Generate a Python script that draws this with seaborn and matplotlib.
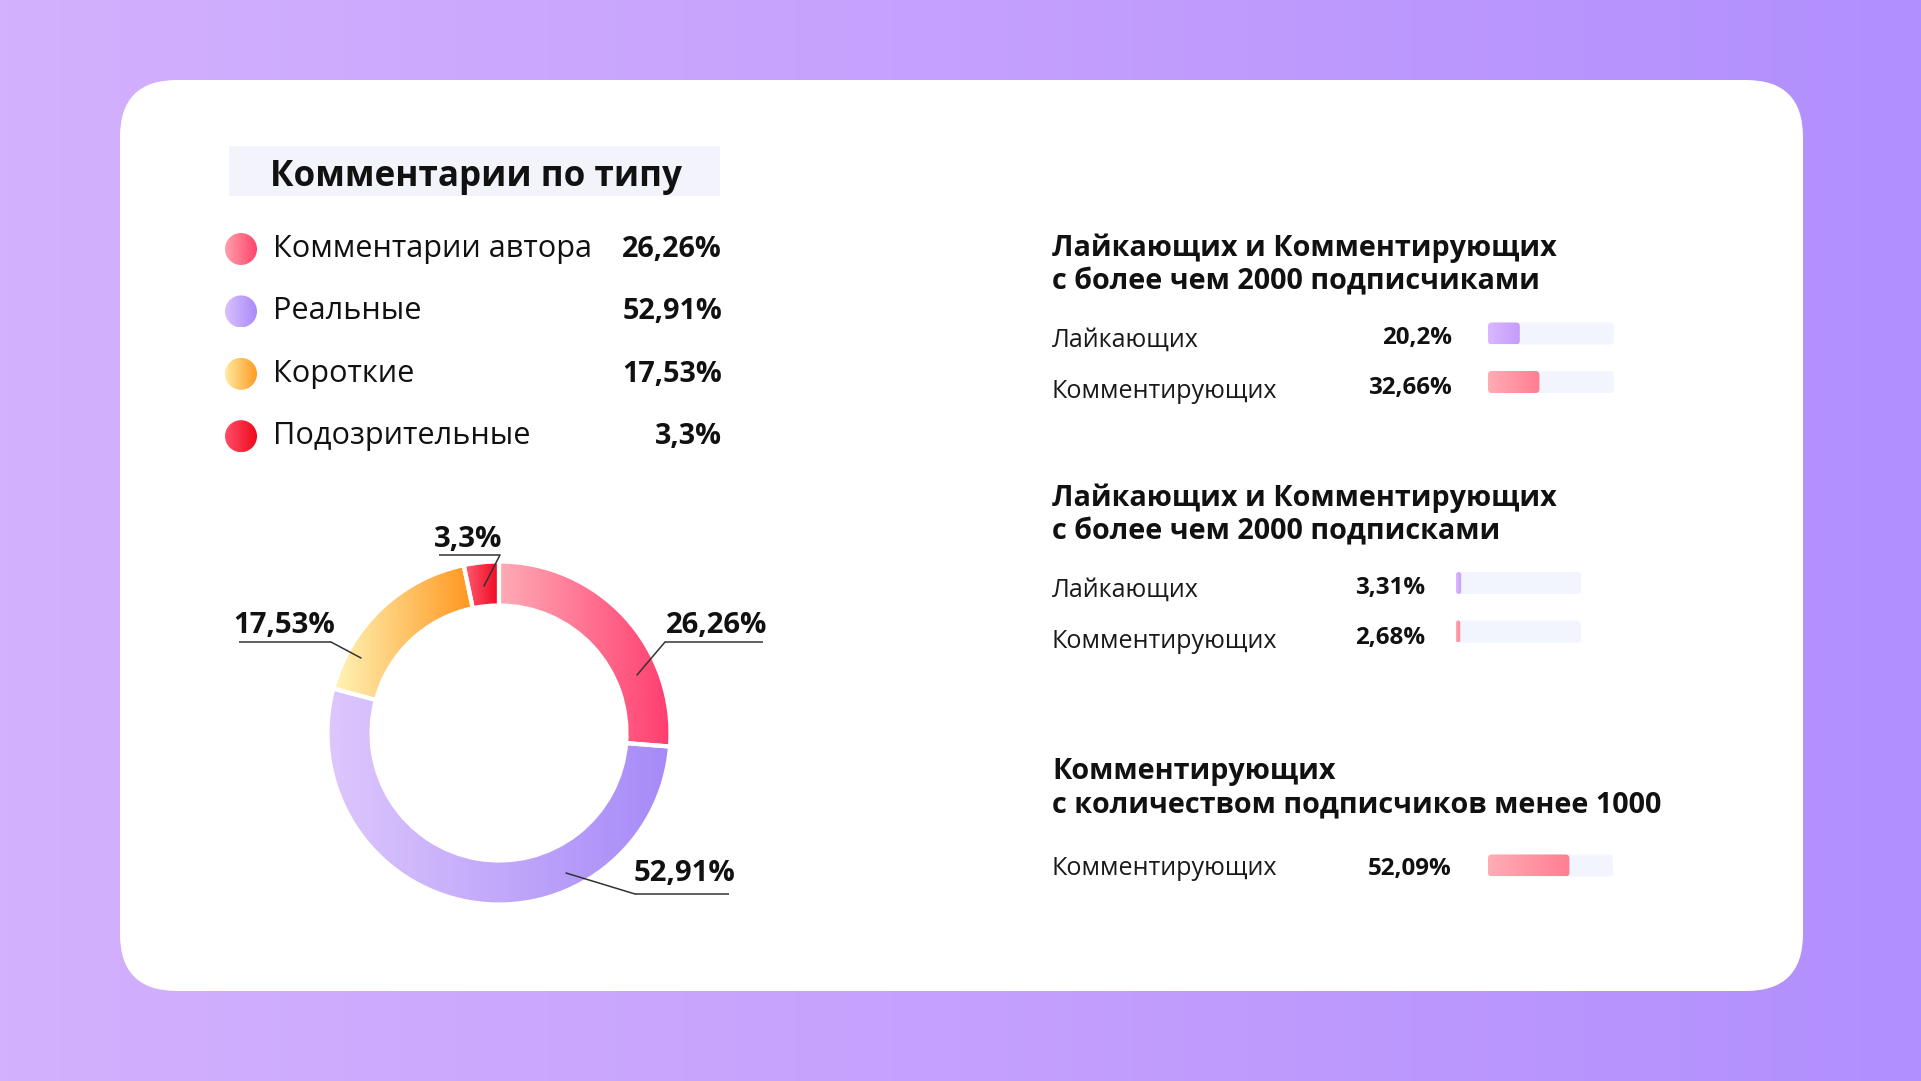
import numpy as np
import matplotlib
matplotlib.use("Agg")
import matplotlib.pyplot as plt
import seaborn as sns
import pandas as pd
from matplotlib.patches import FancyBboxPatch, Rectangle, Circle
from matplotlib.colors import LinearSegmentedColormap

# ---------------- data ----------------
title = "Комментарии по типу"
type_labels = ["Комментарии автора", "Реальные", "Короткие", "Подозрительные"]
type_values = [26.26, 52.91, 17.53, 3.3]

group_titles = [
    ["Лайкающих и Комментирующих", "с более чем 2000 подписчиками"],
    ["Лайкающих и Комментирующих", "с более чем 2000 подписками"],
    ["Комментирующих", "с количеством подписчиков менее 1000"],
]
group_rows = [["Лайкающих", "Комментирующих"],
              ["Лайкающих", "Комментирующих"],
              ["Комментирующих"]]
group_values = [[20.2, 32.66], [3.31, 2.68], [52.09]]
BAR_MAX = 80


def fmt(v):
    return f"{v:g}".replace(".", ",") + "%"


# ---------------- style ----------------
sns.set_theme(style="white")
plt.rcParams['font.family'] = ['Open Sans', 'DejaVu Sans']
LEFT_FONT = ['Open Sans', 'DejaVu Sans']
RIGHT_FONT = ['Open Sans', 'DejaVu Sans']
TXT = "#111111"

seg_grad = [("#FFABB6", "#FF3D6F"), ("#DDC7FD", "#A68AF8"),
            ("#FFF5B8", "#FF961E"), ("#FF5C70", "#EE0720")]
dot_grad = [("#FFA0AC", "#FF4468"), ("#DAC0FE", "#A98AF8"),
            ("#FFEBA3", "#FF9A22"), ("#FF4E68", "#EE0A1C")]
row_grad = {"Лайкающих": ("#DAB8FF", "#C49CFB"),
            "Комментирующих": ("#FFACB6", "#FF7E90")}
TRACK = "#F3F5FE"

W, H = 1921, 1081
fig = plt.figure(figsize=(W / 100, H / 100), dpi=100)
renderer = fig.canvas.get_renderer()

bg = fig.add_axes([0, 0, 1, 1])
bg.set_xlim(0, W)
bg.set_ylim(H, 0)
bg.axis('off')


def grad_fill(ax, patch, c1, c2, z=None):
    bb = patch.get_window_extent(renderer)
    inv = ax.transData.inverted()
    (x0, y0), (x1, y1) = inv.transform([[bb.x0, bb.y0], [bb.x1, bb.y1]])
    cmap = LinearSegmentedColormap.from_list("g", [c1, c2])
    xl, yl = ax.get_xlim(), ax.get_ylim()
    img = ax.imshow(np.linspace(0, 1, 256)[None, :], cmap=cmap,
                    extent=[x0, x1, y0, y1], aspect='auto',
                    interpolation='bilinear',
                    zorder=(patch.get_zorder() - 0.05) if z is None else z)
    img.set_clip_path(patch)
    ax.set_xlim(xl)
    ax.set_ylim(yl)
    return img


def fit_size(text, family, weight, target_px, base=20):
    t = fig.text(0, 0, text, fontsize=base, family=family, weight=weight)
    w = t.get_window_extent(renderer).width
    t.remove()
    return base * target_px / w


# background gradient
bgcmap = LinearSegmentedColormap.from_list("bg", ["#D3B1FD", "#C5A0FD", "#B18FFD"])
bg.imshow(np.linspace(0, 1, 512)[None, :], cmap=bgcmap, extent=[0, W, H, 0],
          aspect='auto', zorder=0)
bg.set_xlim(0, W)
bg.set_ylim(H, 0)

# card
card = FancyBboxPatch((120, 80), 1683, 911, boxstyle="round,pad=0,rounding_size=57",
                      facecolor="white", edgecolor="none", zorder=1)
bg.add_patch(card)

# title box
bg.add_patch(Rectangle((229, 146), 491, 50, facecolor="#F2F3FB", edgecolor="none", zorder=2))
fs_title = fit_size(title, LEFT_FONT, 'bold', 410)
bg.text(476, 186, title, fontsize=fs_title, family=LEFT_FONT, weight='bold',
        ha='center', va='baseline', color=TXT, zorder=3)

# legend
fs_leg = fit_size(type_labels[0], LEFT_FONT, 'normal', 319)
fs_legv = fit_size(fmt(type_values[0]), LEFT_FONT, 'bold', 100)
for i, (lab, val) in enumerate(zip(type_labels, type_values)):
    base = 257 + 62.4 * i
    c = Circle((241, base - 8), 16, facecolor='none', edgecolor='none', zorder=3)
    bg.add_patch(c)
    grad_fill(bg, c, *dot_grad[i], z=3)
    bg.text(273, base, lab, fontsize=fs_leg, family=LEFT_FONT, ha='left',
            va='baseline', color=TXT, zorder=3)
    bg.text(722, base, fmt(val), fontsize=fs_legv, family=LEFT_FONT, weight='bold',
            ha='right', va='baseline', color=TXT, zorder=3)

# donut
cx, cy, R = 499, 733, 170
S = 2.2 * R
dax = fig.add_axes([(cx - S / 2) / W, (H - cy - S / 2) / H, S / W, S / H])
dax.set_zorder(2)
wedges, _ = dax.pie(type_values, startangle=90, counterclock=False,
                    radius=(R + 1.5) / R,
                    wedgeprops=dict(width=44 / R, edgecolor='white', linewidth=3))
dax.set_xlim(-1.1, 1.1)
dax.set_ylim(-1.1, 1.1)
dax.axis('off')
for w, g in zip(wedges, seg_grad):
    w.set_zorder(3)
    grad_fill(dax, w, *g, z=2.5)
    w.set_facecolor('none')
dax.set_aspect('equal')

# donut labels with leader lines (pixel layout)
fs_dl = fit_size("26,26%", LEFT_FONT, 'bold', 102)
dlabels = [
    # value, text center x, baseline, underline x0, x1, y, elbow x, anchor
    (type_values[0], 717, 633, 665, 763, 642, 665, (637, 675)),
    (type_values[1], 684, 881, 635, 729, 894, 635, (566, 873)),
    (type_values[2], 284, 633, 239, 331, 642, 331, (361, 658)),
    (type_values[3], 468, 547, 439, 500, 555, 500, (484, 586)),
]
for v, tx, tb, ux0, ux1, uy, ex, anc in dlabels:
    bg.text(tx, tb, fmt(v), fontsize=fs_dl, family=LEFT_FONT, weight='bold',
            ha='center', va='baseline', color=TXT, zorder=3)

top = fig.add_axes([0, 0, 1, 1])
top.set_zorder(5)
top.set_xlim(0, W)
top.set_ylim(H, 0)
top.axis('off')
top.patch.set_alpha(0)
for v, tx, tb, ux0, ux1, uy, ex, anc in dlabels:
    top.plot([ux0, ux1], [uy, uy], color="#333333", lw=1.1, solid_capstyle='butt')
    top.plot([ex, anc[0]], [uy, anc[1]], color="#333333", lw=1.1)

# right side groups
fs_head = fit_size(group_titles[2][1], RIGHT_FONT, 'bold', 610)
fs_row = fit_size("Комментирующих", RIGHT_FONT, 'normal', 225)
fs_val = fit_size("32,66%", RIGHT_FONT, 'bold', 84)
layout = [
    dict(head=[256, 289], rows=[347, 398], vals=[344, 394], vr=1452, track=(1488, 1614), bc=[333.5, 382]),
    dict(head=[506, 539], rows=[597, 648], vals=[594, 644], vr=1425, track=(1456, 1581), bc=[583, 632]),
    dict(head=[779, 812], rows=[875], vals=[875], vr=1452, track=(1488, 1613), bc=[865.5]),
]
XL = 1052
for g, lay in enumerate(layout):
    for line, yb in zip(group_titles[g], lay['head']):
        bg.text(XL, yb, line, fontsize=fs_head, family=RIGHT_FONT, weight='bold',
                ha='left', va='baseline', color=TXT, zorder=3)
    for lab, v, yr, yv in zip(group_rows[g], group_values[g], lay['rows'], lay['vals']):
        bg.text(XL, yr, lab, fontsize=fs_row, family=RIGHT_FONT, ha='left',
                va='baseline', color="#1a1a1a", zorder=3)
        bg.text(lay['vr'], yv, fmt(v), fontsize=fs_val, family=RIGHT_FONT,
                weight='bold', ha='right', va='baseline', color=TXT, zorder=3)

    n = len(group_rows[g])
    spacing = 48.5
    x0, x1 = lay['track']
    ytop = lay['bc'][0] - spacing / 2
    hp = spacing * n
    bax = fig.add_axes([x0 / W, (H - ytop - hp) / H, (x1 - x0) / W, hp / H])
    bax.set_zorder(3)
    df = pd.DataFrame({"label": [f"{i}" for i in range(n)],
                       "name": group_rows[g],
                       "value": group_values[g],
                       "track": [BAR_MAX] * n})
    bw = 22 / spacing
    sns.barplot(data=df, x="track", y="label", orient='h', color=TRACK,
                width=bw, errorbar=None, ax=bax, saturation=1)
    sns.barplot(data=df, x="value", y="label", orient='h', color="#ff8899",
                width=bw, errorbar=None, ax=bax, saturation=1)
    bax.set_xlim(0, BAR_MAX)
    bax.set_ylim(n - 0.5, -0.5)
    bax.axis('off')
    pxx = (x1 - x0) / BAR_MAX
    pxy = spacing
    rects = [p for p in bax.patches if isinstance(p, Rectangle)]
    for k, p in enumerate(rects):
        x, y, w, h = p.get_x(), p.get_y(), p.get_width(), p.get_height()
        fc = p.get_facecolor()
        p.set_visible(False)
        wpx, hpx = w * pxx, h * pxy
        r = min(4.0, wpx / 2, hpx / 2)
        fb = FancyBboxPatch((x, y), w, h,
                            boxstyle=f"round,pad=0,rounding_size={r / pxx}",
                            mutation_aspect=pxx / pxy,
                            facecolor=fc, edgecolor='none', zorder=2 + (k >= n))
        bax.add_patch(fb)
        if k >= n:
            name = group_rows[g][k - n]
            fb.set_facecolor('none')
            grad_fill(bax, fb, *row_grad[name], z=2.5)
    bax.set_xlim(0, BAR_MAX)
    bax.set_ylim(n - 0.5, -0.5)

fig.savefig("out.png", dpi=100)
